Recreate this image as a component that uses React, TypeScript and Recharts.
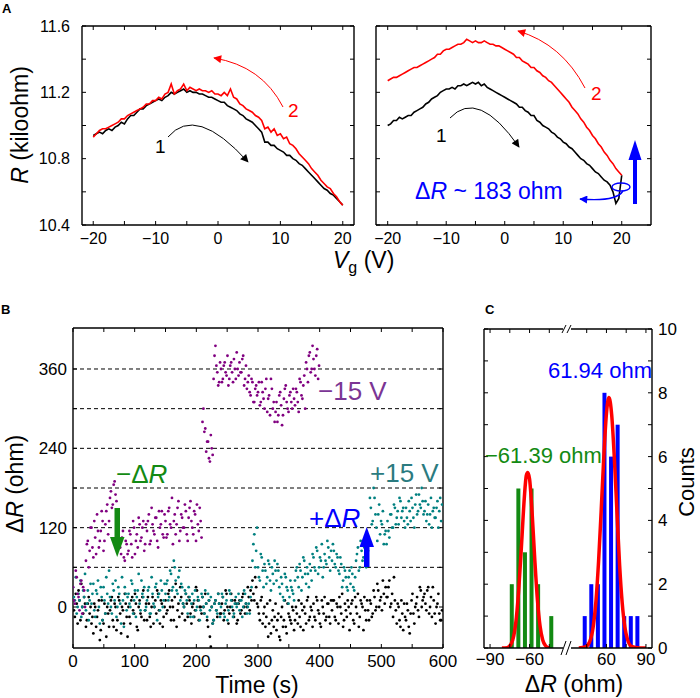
import React from "react";
import {
  LineChart,
  Line,
  ScatterChart,
  Scatter,
  ComposedChart,
  Bar,
  XAxis,
  YAxis,
  ReferenceLine,
} from "recharts";

const FONT = '"Liberation Sans", Arial, Helvetica, sans-serif';

// ---------- panel A : R vs gate voltage, sampled every 0.5 V ----------
const SWEEP_V = Array.from({ length: 81 }, (_, i) => -20 + i * 0.5);

const leftSweep1 = [
  10.94, 10.95, 10.96, 10.95, 10.97, 10.98, 10.97, 10.99, 11.0, 11.02,
  11.01, 11.04, 11.06, 11.06, 11.08, 11.1, 11.1, 11.12, 11.13, 11.14,
  11.15, 11.16, 11.15, 11.17, 11.18, 11.2, 11.19, 11.2, 11.21, 11.22,
  11.2, 11.21, 11.2, 11.2, 11.19, 11.19, 11.18, 11.17, 11.17, 11.16,
  11.15, 11.14, 11.14, 11.12, 11.11, 11.1, 11.09, 11.07, 11.06, 11.04,
  11.03, 11.02, 11.0, 10.98, 10.96, 10.9, 10.9, 10.88, 10.88, 10.86,
  10.85, 10.84, 10.82, 10.82, 10.8, 10.79, 10.77, 10.76, 10.74, 10.72,
  10.7, 10.68, 10.66, 10.64, 10.62, 10.61, 10.59, 10.58, 10.56, 10.54,
  10.52,
];
const leftSweep2 = [
  10.93, 10.95, 10.97, 10.98, 10.98, 10.99, 11.0, 11.01, 11.02, 11.04,
  11.04, 11.06, 11.07, 11.08, 11.09, 11.1, 11.11, 11.13, 11.13, 11.15,
  11.15, 11.17, 11.16, 11.19, 11.2, 11.25, 11.19, 11.21, 11.22, 11.25,
  11.21, 11.23, 11.22, 11.21, 11.22, 11.21, 11.21, 11.2, 11.21, 11.19,
  11.19, 11.18, 11.2, 11.18, 11.22, 11.17, 11.16, 11.13, 11.12, 11.1,
  11.09, 11.08, 11.06, 11.05, 11.03, 10.98, 10.99, 10.96, 10.98, 10.94,
  10.95, 10.92, 10.93, 10.89, 10.88, 10.86, 10.83, 10.81, 10.79, 10.77,
  10.74, 10.72, 10.7, 10.67, 10.65, 10.63, 10.62, 10.59, 10.57, 10.54,
  10.52,
];
const rightSweep1 = [
  11.0, 11.01, 11.03, 11.03, 11.05, 11.04, 11.05, 11.06, 11.06, 11.08,
  11.09, 11.1, 11.11, 11.13, 11.14, 11.16, 11.17, 11.18, 11.2, 11.21,
  11.22, 11.22, 11.23, 11.22, 11.24, 11.24, 11.25, 11.24, 11.25, 11.26,
  11.25, 11.26, 11.24, 11.25, 11.23, 11.22, 11.21, 11.2, 11.19, 11.18,
  11.17, 11.16, 11.15, 11.14, 11.13, 11.11, 11.11, 11.09, 11.08, 11.06,
  11.06, 11.03, 11.02, 11.0, 10.99, 10.98, 10.96, 10.95, 10.93, 10.92,
  10.9, 10.89, 10.87, 10.86, 10.84, 10.82, 10.8, 10.79, 10.77, 10.76,
  10.74, 10.72, 10.71, 10.69, 10.67, 10.66, 10.64, 10.6, 10.53, 10.56,
  10.7,
];
const rightSweep2 = [
  11.27, 11.28, 11.29, 11.29, 11.3, 11.31, 11.32, 11.33, 11.34, 11.35,
  11.35, 11.36, 11.37, 11.38, 11.39, 11.4, 11.41, 11.43, 11.43, 11.45,
  11.46, 11.46, 11.47, 11.48, 11.49, 11.49, 11.5, 11.52, 11.51, 11.5,
  11.51, 11.5, 11.5, 11.51, 11.5, 11.49, 11.49, 11.48, 11.48, 11.47,
  11.46, 11.45, 11.44, 11.43, 11.41, 11.41, 11.39, 11.38, 11.37, 11.35,
  11.35, 11.33, 11.32, 11.3, 11.29, 11.27, 11.26, 11.24, 11.22, 11.2,
  11.18, 11.16, 11.14, 11.11, 11.09, 11.07, 11.04, 11.02, 10.99, 10.97,
  10.94, 10.92, 10.89, 10.87, 10.84, 10.82, 10.79, 10.77, 10.74, 10.72,
  10.7,
];

const V_TICKS = [-20, -15, -10, -5, 0, 5, 10, 15, 20];
const R_TICKS = [10.4, 10.6, 10.8, 11.0, 11.2, 11.4, 11.6];
const R_LABELS = ["10.4", "10.8", "11.2", "11.6"];
const R_DOMAIN: [number, number] = [10.4, 11.6];

// ---------- panel B : ΔR vs time, samples every 1.5 s (two interleaved reads) ----------
const TIME_STEP = 3;
const black0V = [
  10, -15, 5, 25, -20, 0, 15, -30, 5, -10,
  -25, -40, 0, -15, 10, -35, -20, 5, -45, -10,
  -5, 15, -30, 0, -20, 10, -40, -5, 20, -15,
  0, -25, 15, -10, 5, -35, 10, -15, 25, -5,
  -20, 5, -30, 15, 0, -10, 20, -25, 5, -15,
  10, -5, 25, -20, 0, 15, -30, 5, 30, -10,
  0, 20, -15, 10, -25, 5, -5, 25, -20, 0,
  15, -10, 5, -30, -45, 0, -20, 10, -15, 5,
  -10, 15, -5, 20, -25, 0, 10, -15, 5, -20,
  10, -5, 20, -10, 0, 15, 25, 40, 10, 30,
  0, -20, 15, -10, -30, 5, -25, -40, -5, -15,
  -35, -10, -50, 0, -20, -30, 5, -15, -25, -5,
  -20, -10, 10, -30, -5, 0, -25, 15, -15, -5,
  5, -20, 10, -10, -30, 0, 15, -15, 5, -25,
  -5, 10, -20, 0, 15, -10, -30, 5, -15, 0,
  -10, 10, -25, 0, 20, -15, 5, -35, -5, 10,
  -20, 5, -10, 15, 0, 25, 10, -5, 20, 30,
  15, 40, 5, -15, 10, -25, 0, -30, -10, 5,
  -20, -5, -40, 10, -10, 0, 15, -15, 25, 10,
  20, -5, 30, 0, -15, 10, -25, 5, -10, -20,
];
const black0Vb = [
  -5, 20, -25, 10, 35, -10, 5, -20, 15, 0,
  -15, 5, -30, -5, -50, 10, -25, -10, 0, -30,
  10, -20, 5, -35, 15, -10, 0, -25, 5, -45,
  -15, 10, -5, 20, -30, 0, -10, 15, -20, 5,
  15, -15, 0, -25, 10, 25, -5, 10, -30, 0,
  -10, 20, 0, 10, -20, 35, -5, -15, 15, 5,
  -20, 5, 15, -10, 0, -15, 30, 10, 0, -10,
  0, 20, -20, 10, -60, -25, 5, -5, 20, -10,
  5, -20, 25, 0, -10, 20, -5, 10, -25, 5,
  -10, 15, 0, 5, 30, -5, 10, 20, 45, 5,
  -10, 10, -25, 0, -15, -45, 10, -20, -30, 5,
  -20, -45, -15, -30, 10, -40, -10, -20, 0, -35,
  0, -25, -15, 5, -35, -10, 10, -20, 0, -30,
  -15, 15, -5, -25, 10, -10, -20, 5, -15, 10,
  10, -15, 5, -25, 0, 20, -20, -5, 10, -35,
  5, -20, 15, -10, -30, 10, 0, 15, -20, -5,
  10, -15, 25, -5, 35, 0, 15, 40, 5, 15,
  30, 0, 20, 45, -5, 5, -20, 10, -35, -15,
  5, -30, -10, 20, -25, 5, -5, 30, 0, 15,
  5, 25, -10, 15, 30, -10, 0, 20, -20, -5,
];
const teal15V = [
  30, 10, -10, 20, 40, 0, 15, -5, 25, 10,
  5, 35, -15, 20, 0, 30, -20, 10, 45, 5,
  15, -10, 25, 40, 0, 20, -25, 10, 30, -5,
  20, 0, 35, 10, -15, 25, 5, 40, 15, -5,
  10, 30, -10, 20, 0, 35, 15, -5, 25, 10,
  20, 40, 15, 50, 30, 60, 25, 45, 10, 30,
  0, 20, -10, 15, 5, -15, 25, 0, 10, -5,
  15, -10, 5, 20, -5, 0, -20, 10, -10, 5,
  0, 15, -15, 10, -5, 20, 0, -10, 15, 5,
  -5, 10, 0, 20, -10, 5, 15, 70, 110, 85,
  60, 40, 75, 30, 55, 45, 65, 25, 50, 70,
  40, 55, 20, 35, 10, 45, 25, 15, 30, 20,
  40, 60, 30, 55, 45, 70, 35, 50, 65, 40,
  75, 55, 85, 60, 70, 45, 80, 65, 90, 55,
  70, 85, 60, 75, 50, 65, 40, 55, 30, 45,
  35, 50, 25, 70, 90, 60, 85, 75, 95, 65,
  100, 150, 130, 165, 120, 140, 110, 125, 95, 115,
  130, 105, 140, 120, 150, 135, 125, 160, 145, 130,
  150, 125, 145, 165, 135, 155, 140, 170, 150, 160,
  145, 130, 155, 140, 120, 150, 135, 160, 145, 130,
];
const teal15Vb = [
  15, 45, 0, 10, -15, 25, 50, 5, -20, 35,
  20, -5, 25, 40, -25, 15, 30, -10, 20, 55,
  0, 35, 10, -15, 30, 5, 45, -30, 20, 15,
  5, 40, -10, 25, 15, 50, -5, 20, 30, 0,
  25, -10, 45, 5, 30, -20, 20, 40, 0, 35,
  35, 10, 55, 25, 70, 40, 20, 55, 35, 5,
  25, 10, 30, -15, 20, 10, -5, 15, -20, 20,
  0, 25, -15, 10, 15, -25, 5, -5, 20, -15,
  20, -10, 5, -20, 25, 10, -15, 5, 0, 20,
  10, -15, 25, 5, 0, -10, 30, 95, 60, 120,
  45, 80, 55, 65, 35, 70, 40, 60, 35, 55,
  65, 30, 45, 15, 50, 30, 5, 40, 25, 10,
  55, 45, 65, 25, 75, 50, 60, 30, 55, 80,
  60, 90, 50, 75, 95, 60, 70, 100, 75, 85,
  95, 65, 80, 55, 75, 30, 60, 45, 25, 55,
  60, 30, 45, 80, 55, 100, 70, 90, 60, 85,
  165, 125, 180, 140, 100, 155, 130, 145, 110, 95,
  115, 140, 120, 155, 125, 145, 165, 135, 150, 120,
  135, 160, 130, 150, 120, 170, 145, 155, 180, 140,
  160, 140, 125, 165, 145, 135, 150, 120, 165, 155,
];
const purpleMinus15V = [
  30, 5, 45, 15, 35, -10, 25, 70, 100, 85,
  120, 75, 105, 140, 90, 115, 130, 100, 145, 110,
  165, 150, 185, 170, 140, 100, 80, 115, 70, 95,
  85, 110, 75, 120, 100, 90, 125, 105, 130, 95,
  115, 140, 100, 125, 110, 135, 90, 120, 145, 105,
  130, 110, 150, 120, 95, 140, 125, 160, 115, 135,
  120, 145, 100, 150, 130, 110, 140, 155, 115, 130,
  280, 265, 235, 250, 220, 240, 345, 395, 355, 340,
  360, 345, 370, 350, 335, 365, 355, 375, 345, 360,
  370, 355, 380, 345, 330, 350, 320, 340, 310, 335,
  325, 305, 340, 315, 330, 295, 320, 345, 300, 280,
  310, 290, 325, 275, 315, 335, 300, 320, 310, 330,
  305, 325, 295, 340, 315, 350, 370, 340, 385, 360,
  375, 350, 390, 365,
];
const purpleMinus15Vb = [
  10, 55, 20, -5, 40, 30, 0, 95, 60, 120,
  90, 130, 80, 115, 100, 145, 85, 125, 155, 130,
  175, 155, 190, 160, 120, 90, 105, 75, 100, 80,
  115, 95, 130, 80, 110, 135, 100, 120, 85, 125,
  130, 95, 150, 115, 135, 100, 145, 125, 110, 140,
  105, 145, 125, 165, 130, 110, 150, 100, 140, 120,
  155, 110, 135, 160, 120, 145, 100, 125, 150, 105,
  300, 270, 250, 225, 260, 230, 380, 365, 335, 370,
  340, 365, 355, 380, 345, 370, 340, 360, 385, 350,
  355, 375, 335, 365, 340, 325, 345, 310, 330, 320,
  340, 310, 325, 300, 345, 315, 290, 330, 310, 295,
  280, 320, 305, 290, 330, 310, 295, 325, 300, 315,
  330, 310, 345, 320, 335, 300, 360, 380, 355, 395,
  360, 380, 345,
];
const T_TICKS = [0, 50, 100, 150, 200, 250, 300, 350, 400, 450, 500, 550, 600];
const DR_TICKS = [0, 60, 120, 180, 240, 300, 360];
const DR_DASHED = [60, 120, 180, 240, 300, 360];

// ---------- panel C : histogram of step heights ----------
const stepDown = [-73.5, -68.5, -63.5, -58.5, -53.5, -43.5];
const stepDownCounts = [2, 5, 3, 5, 2, 1];
const stepUp = [43.5, 48.5, 53.5, 58.5, 63.5, 68.5, 73.5, 78.5, 83.5];
const stepUpCounts = [1, 2, 2, 8, 6, 7, 1, 1, 1];
const downFitX = [-81, -77, -74, -72, -70, -68, -66, -64, -62.5, -61.4, -60, -58, -56, -54, -52, -50, -48, -45];
const downFitY = [0, 0.01, 0.13, 0.38, 0.96, 1.96, 3.3, 4.7, 5.4, 5.5, 5.3, 4.2, 2.75, 1.5, 0.68, 0.25, 0.08, 0];
const upFitX = [39, 44, 47, 50, 52, 54, 56, 58, 60, 61.9, 64, 66, 68, 70, 72, 74, 76, 79, 85, 90];
const upFitY = [0, 0.03, 0.17, 0.68, 1.45, 2.7, 4.3, 6.0, 7.35, 7.85, 7.3, 5.95, 4.25, 2.6, 1.4, 0.65, 0.27, 0.05, 0, 0];
const HIST_TICKS = [-90, -75, -60, -45, 45, 60, 75, 90];
const COUNT_TICKS = [0, 1, 2, 3, 4, 5, 6, 7, 8, 9, 10];

// the x axis is broken between -30.8 and +30.8 ohm
const GAP = 30.8;
const squeeze = (x: number) => (x < 0 ? x + GAP : x - GAP);
const unsqueeze = (x: number) => (x < 0 ? x - GAP : x + GAP);
const HIST_DOMAIN: [number, number] = [-GAP - 33, GAP + 33];

const GREEN = "#138a13";
const BLUE = "#0000ff";
const RED = "#ff0000";
const PURPLE = "#800080";
const TEAL = "#008080";

const minus = (v: number) => (v < 0 ? `\u2212${Math.abs(v)}` : `${v}`);

const sweepRows = (a: number[], b: number[]) =>
  SWEEP_V.map((v, i) => ({ v, s1: a[i], s2: b[i] }));

const tickStyle = (size: number) => ({ fill: "#000", fontSize: size, fontFamily: FONT });

// box frame with inward ticks on all four sides, drawn through the chart's own scales
function frame(
  xd: [number, number],
  yd: [number, number],
  xt: number[],
  yt: number[],
  plotW: number,
  plotH: number
) {
  const dx = (4 * (xd[1] - xd[0])) / plotW;
  const dy = (4 * (yd[1] - yd[0])) / plotH;
  const out: React.ReactElement[] = [];
  xt.forEach((v) => {
    out.push(<ReferenceLine key={`xb${v}`} segment={[{ x: v, y: yd[0] }, { x: v, y: yd[0] + dy }]} stroke="#000" strokeWidth={1} />);
    out.push(<ReferenceLine key={`xt${v}`} segment={[{ x: v, y: yd[1] }, { x: v, y: yd[1] - dy }]} stroke="#000" strokeWidth={1} />);
  });
  yt.forEach((v) => {
    out.push(<ReferenceLine key={`yl${v}`} segment={[{ x: xd[0], y: v }, { x: xd[0] + dx, y: v }]} stroke="#000" strokeWidth={1} />);
    out.push(<ReferenceLine key={`yr${v}`} segment={[{ x: xd[1], y: v }, { x: xd[1] - dx, y: v }]} stroke="#000" strokeWidth={1} />);
  });
  out.push(<ReferenceLine key="fl" x={xd[0]} stroke="#000" strokeWidth={1.4} />);
  out.push(<ReferenceLine key="fr" x={xd[1]} stroke="#000" strokeWidth={1.4} />);
  out.push(<ReferenceLine key="fb" y={yd[0]} stroke="#000" strokeWidth={1.4} />);
  out.push(<ReferenceLine key="ft" y={yd[1]} stroke="#000" strokeWidth={1.4} />);
  return out;
}

function SweepPanel({
  rows,
  width,
  left,
  right,
  domain,
  showY,
}: {
  rows: { v: number; s1: number; s2: number }[];
  width: number;
  left: number;
  right: number;
  domain: [number, number];
  showY: boolean;
}) {
  const yw = showY ? 82 : 0;
  return (
    <LineChart width={width} height={270} data={rows} margin={{ top: 26, right, bottom: 0, left }}>
      <XAxis
        dataKey="v"
        type="number"
        domain={domain}
        allowDataOverflow
        ticks={V_TICKS}
        tickFormatter={(v) => (v % 10 === 0 ? minus(v) : "")}
        tickSize={0}
        tickMargin={8}
        height={45}
        axisLine={false}
        tickLine={false}
        tick={tickStyle(16)}
      />
      <YAxis
        type="number"
        domain={R_DOMAIN}
        allowDataOverflow
        ticks={R_TICKS}
        tickFormatter={(v) => (showY && R_LABELS.includes(v.toFixed(1)) ? v.toFixed(1) : "")}
        tickSize={0}
        tickMargin={12}
        width={yw}
        axisLine={false}
        tickLine={false}
        tick={showY ? tickStyle(16) : false}
      />
      {frame(domain, R_DOMAIN, V_TICKS, R_TICKS, width - left - right - yw, 199)}
      <Line dataKey="s1" stroke="#000" strokeWidth={1.6} dot={false} isAnimationActive={false} />
      <Line dataKey="s2" stroke={RED} strokeWidth={1.6} dot={false} isAnimationActive={false} />
    </LineChart>
  );
}

const Dot = (p: any) => <circle cx={p.cx} cy={p.cy} r={1.4} fill={p.fill} />;

function TracePanel() {
  const rows = (a: number[], b: number[]) => [
    ...a.map((d, i) => ({ t: i * TIME_STEP, d })),
    ...b.map((d, i) => ({ t: i * TIME_STEP + TIME_STEP / 2, d })),
  ];
  const xd: [number, number] = [0, 600];
  const yd: [number, number] = [-62, 422];
  return (
    <ScatterChart width={460} height={360} margin={{ top: 18, right: 17, bottom: 0, left: 0 }}>
      <XAxis
        dataKey="t"
        type="number"
        domain={xd}
        allowDataOverflow
        ticks={T_TICKS}
        tickFormatter={(v) => (v % 100 === 0 ? `${v}` : "")}
        tickSize={0}
        tickMargin={7}
        height={22}
        axisLine={false}
        tickLine={false}
        tick={tickStyle(17)}
      />
      <YAxis
        dataKey="d"
        type="number"
        domain={yd}
        allowDataOverflow
        ticks={DR_TICKS}
        tickFormatter={(v) => (v % 120 === 0 ? `${v}` : "")}
        tickSize={0}
        tickMargin={6}
        width={73}
        axisLine={false}
        tickLine={false}
        tick={tickStyle(17)}
      />
      {DR_DASHED.map((y) => (
        <ReferenceLine key={y} y={y} stroke="#000" strokeWidth={1} strokeDasharray="4 3" />
      ))}
      <Scatter data={rows(black0V, black0Vb)} fill="#000" shape={Dot} isAnimationActive={false} />
      <Scatter data={rows(teal15V, teal15Vb)} fill={TEAL} shape={Dot} isAnimationActive={false} />
      <Scatter data={rows(purpleMinus15V, purpleMinus15Vb)} fill={PURPLE} shape={Dot} isAnimationActive={false} />
      {frame(xd, yd, T_TICKS, DR_TICKS, 370, 320)}
    </ScatterChart>
  );
}

const HistBar = (p: any) => (
  <rect
    x={p.x + p.width / 2 - 2}
    y={p.y}
    width={4}
    height={p.height}
    fill={p.payload && p.payload.x < 0 ? GREEN : BLUE}
  />
);

function HistogramPanel() {
  const bars = [
    ...stepDown.map((x, i) => ({ x: squeeze(x), n: stepDownCounts[i] })),
    ...stepUp.map((x, i) => ({ x: squeeze(x), n: stepUpCounts[i] })),
  ];
  const downFit = downFitX.map((x, i) => ({ x: squeeze(x), y: downFitY[i] }));
  const upFit = upFitX.map((x, i) => ({ x: squeeze(x), y: upFitY[i] }));
  const ticks = HIST_TICKS.map(squeeze);
  const fmt = (v: number) => {
    const raw = Math.round(unsqueeze(v));
    return Math.abs(raw) === 60 || Math.abs(raw) === 90 ? minus(raw) : "";
  };
  return (
    <ComposedChart width={230} height={360} data={bars} margin={{ top: 19, right: 0, bottom: 0, left: 14 }}>
      <XAxis
        dataKey="x"
        type="number"
        domain={HIST_DOMAIN}
        allowDataOverflow
        ticks={ticks}
        tickFormatter={fmt}
        tickSize={0}
        tickMargin={5}
        height={22}
        axisLine={false}
        tickLine={false}
        tick={tickStyle(17)}
      />
      <YAxis
        orientation="right"
        type="number"
        domain={[0, 10]}
        allowDataOverflow
        ticks={COUNT_TICKS}
        tickFormatter={(v) => (v % 2 === 0 ? `${v}` : "")}
        tickSize={0}
        tickMargin={6}
        width={48}
        axisLine={false}
        tickLine={false}
        tick={tickStyle(17)}
      />
      <Bar dataKey="n" shape={HistBar} isAnimationActive={false} />
      <Line data={downFit} dataKey="y" type="monotone" stroke={RED} strokeWidth={3.5} dot={false} isAnimationActive={false} />
      <Line data={upFit} dataKey="y" type="monotone" stroke={RED} strokeWidth={3.5} dot={false} isAnimationActive={false} />
      {frame(HIST_DOMAIN, [0, 10], ticks, COUNT_TICKS, 168, 319)}
    </ComposedChart>
  );
}

function Annotations() {
  return (
    <svg width={700} height={698} style={{ position: "absolute", left: 0, top: 0, pointerEvents: "none", fontFamily: FONT }}>
      <defs>
        {[["headRed", RED], ["headBlack", "#000"], ["headBlue", BLUE]].map(([id, c]) => (
          <marker key={id} id={id} viewBox="0 0 10 10" refX={9} refY={5} markerWidth={9} markerHeight={8} markerUnits="userSpaceOnUse" orient="auto">
            <path d="M0,0 L10,5 L0,10 z" fill={c} />
          </marker>
        ))}
      </defs>

      {/* panel letters */}
      <text x={2} y={13} fontSize={13} fontWeight="bold">A</text>
      <text x={1} y={314} fontSize={13} fontWeight="bold">B</text>
      <text x={485} y={314} fontSize={13} fontWeight="bold">C</text>

      {/* panel A */}
      <text transform="translate(28,125) rotate(-90)" textAnchor="middle" fontSize={23}>
        <tspan fontStyle="italic">R</tspan> (kiloohm)
      </text>
      <text x={333} y={268} fontSize={23}>
        <tspan fontStyle="italic">V</tspan>
        <tspan fontSize={16} dy={5}>g</tspan>
        <tspan dy={-5}> (V)</tspan>
      </text>
      <path d="M283,107 Q262,66 214,58" fill="none" stroke={RED} strokeWidth={1} markerEnd="url(#headRed)" />
      <text x={288} y={117} fontSize={19} fill={RED}>2</text>
      <path d="M168,137 Q196,104 248,162" fill="none" stroke="#000" strokeWidth={1} markerEnd="url(#headBlack)" />
      <text x={155} y={153} fontSize={19}>1</text>

      <path d="M585,88 Q562,44 518,31" fill="none" stroke={RED} strokeWidth={1} markerEnd="url(#headRed)" />
      <text x={591} y={100} fontSize={19} fill={RED}>2</text>
      <path d="M450,118 Q478,88 519,147" fill="none" stroke="#000" strokeWidth={1} markerEnd="url(#headBlack)" />
      <text x={436} y={142} fontSize={19}>1</text>
      <text x={415} y={199} fontSize={23} fill={BLUE}>
        Δ<tspan fontStyle="italic">R</tspan> ~ 183 ohm
      </text>
      <ellipse cx={621} cy={187} rx={9} ry={4} fill="none" stroke={BLUE} strokeWidth={1.4} />
      <path d="M623,191 Q616,202 580,199" fill="none" stroke={BLUE} strokeWidth={1.4} markerEnd="url(#headBlue)" />
      <rect x={633} y={160} width={4} height={44} fill={BLUE} />
      <polygon points="628.5,160 641.5,160 635,140" fill={BLUE} />

      {/* panel B */}
      <text transform="translate(23,484) rotate(-90)" textAnchor="middle" fontSize={23}>
        Δ<tspan fontStyle="italic">R</tspan> (ohm)
      </text>
      <text x={257} y={693} textAnchor="middle" fontSize={23}>Time (s)</text>
      <text x={318} y={400} fontSize={26} fill="#7b3594">−15 V</text>
      <text x={370} y={482} fontSize={26} fill="#2b7b80">+15 V</text>
      <text x={116} y={483} fontSize={26} fill={GREEN}>
        −Δ<tspan fontStyle="italic">R</tspan>
      </text>
      <text x={309} y={527} fontSize={26} fill={BLUE}>
        +Δ<tspan fontStyle="italic">R</tspan>
      </text>
      <rect x={114.5} y={508} width={5.5} height={30} fill={GREEN} />
      <polygon points="110,537 124.5,537 117.2,557" fill={GREEN} />
      <rect x={364} y={547} width={5.5} height={20} fill={BLUE} />
      <polygon points="359.5,547 374,547 366.7,527" fill={BLUE} />

      {/* panel C */}
      <text x={652} y={378} textAnchor="end" fontSize={22} fill={BLUE}>61.94 ohm</text>
      <text x={485} y={463} fontSize={22} fill={GREEN}>−61.39 ohm</text>
      <text x={574} y={692} textAnchor="middle" fontSize={23}>
        Δ<tspan fontStyle="italic">R</tspan> (ohm)
      </text>
      <text transform="translate(694,482) rotate(-90)" textAnchor="middle" fontSize={22}>Counts</text>
      <rect x={563} y={326} width={8} height={6} fill="#fff" />
      <line x1={562} y1={333} x2={566} y2={325} stroke="#000" strokeWidth={1} />
      <line x1={567} y1={333} x2={571} y2={325} stroke="#000" strokeWidth={1} />
      <rect x={563} y={645} width={8} height={6} fill="#fff" />
      <line x1={561} y1={655} x2={566} y2={641} stroke="#000" strokeWidth={1} />
      <line x1={566} y1={655} x2={571} y2={641} stroke="#000" strokeWidth={1} />
    </svg>
  );
}

export default function App() {
  return (
    <div style={{ position: "absolute", left: 0, top: 0, width: 700, height: 698, background: "#fff", fontFamily: FONT }}>
      <div style={{ position: "absolute", left: 0, top: 0 }}>
        <SweepPanel rows={sweepRows(leftSweep1, leftSweep2)} width={360} left={0} right={6} domain={[-21.8, 21.8]} showY />
      </div>
      <div style={{ position: "absolute", left: 360, top: 0 }}>
        <SweepPanel rows={sweepRows(rightSweep1, rightSweep2)} width={300} left={16} right={9} domain={[-22, 25]} showY={false} />
      </div>
      <div style={{ position: "absolute", left: 0, top: 310 }}>
        <TracePanel />
      </div>
      <div style={{ position: "absolute", left: 470, top: 310 }}>
        <HistogramPanel />
      </div>
      <Annotations />
    </div>
  );
}
